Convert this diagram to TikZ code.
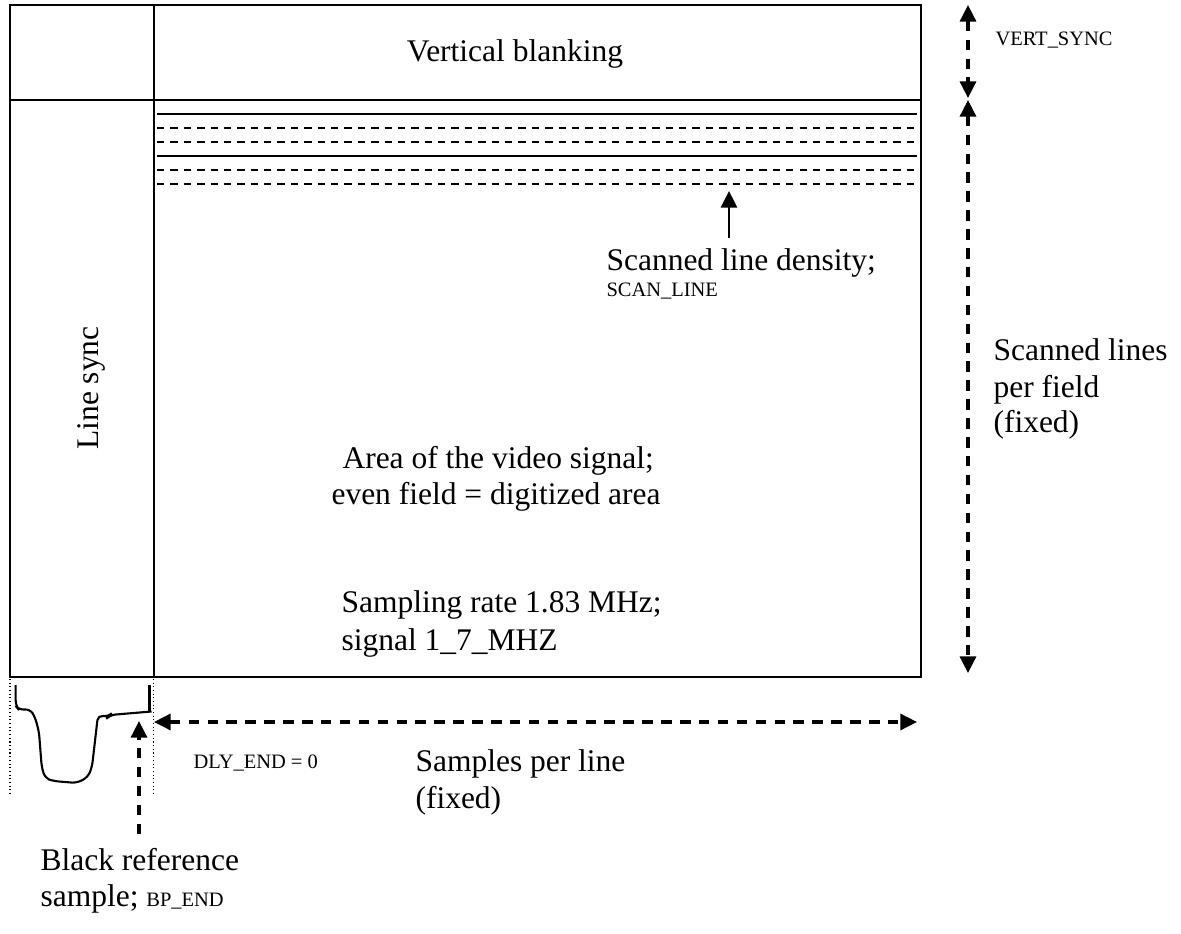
\documentclass[tikz,border=0pt]{standalone}
\usepackage{fontspec}
\setmainfont{Liberation Serif}
\usetikzlibrary{arrows.meta}
\begin{document}
\begin{tikzpicture}[x=0.381pt,y=-0.381pt,
  frame/.style={line width=0.8pt},
  scansolid/.style={line width=0.85pt},
  scandash/.style={line width=0.6pt, dash pattern=on 2.8pt off 2.3pt},
  tip/.tip={Triangle[length=6.3pt,width=6.1pt]},
  dim/.style={line width=1.15pt, dash pattern=on 4pt off 3.2pt, -tip},
  dimboth/.style={line width=1.15pt, dash pattern=on 4pt off 3.2pt, tip-tip},
  pointer/.style={line width=1pt, -tip},
  guide/.style={line width=0.4pt, dash pattern=on 0.4pt off 1pt},
  wave/.style={line width=0.8pt, rounded corners=2pt},
  lbl/.style={inner sep=0pt, anchor=base west, font=\fontsize{12}{13.9}\selectfont},
  small/.style={inner sep=0pt, anchor=base west, font=\fontsize{7.8}{9}\selectfont},
]
\useasboundingbox (0,0) rectangle (1181,934);

% corners of the field frame
\coordinate (tl) at (10,5);
\coordinate (br) at (921,677);
\coordinate (divtop) at (154,5);
\coordinate (divbot) at (154,677);
\coordinate (blankl) at (10,100);
\coordinate (blankr) at (921,100);

% frame, line-sync column and vertical blanking band
\draw[frame] (tl) rectangle (br);
\draw[frame] (divtop) -- (divbot);
\draw[frame] (blankl) -- (blankr);

% scanned lines (two fields interleaved)
\foreach \yy in {114,156} \draw[scansolid] (157,\yy) -- (917,\yy);
\foreach \yy in {128,142,170,184} \draw[scandash] (157,\yy) -- (917,\yy);

% texts
\node[lbl, anchor=base] (vblank) at (515,62) {Vertical blanking};
\node[small] (vsync) at (995,46) {VERT\_SYNC};
\node[lbl] (densA) at (606,271) {Scanned line density;};
\node[small] (densB) at (606,297) {SCAN\_LINE};
\node[lbl, anchor=center, rotate=90] (lsync) at (91,388) {Line sync};
\node[lbl] (perA) at (993,361) {Scanned lines};
\node[lbl] (perB) at (993,397) {per field};
\node[lbl] (perC) at (993,433) {(fixed)};
\node[lbl] (areaA) at (342,468) {Area of the video signal;};
\node[lbl] (areaB) at (331,505) {even field = digitized area};
\node[lbl] (rateA) at (341,613) {Sampling rate 1.83 MHz;};
\node[lbl] (rateB) at (341,650) {signal 1\_7\_MHZ};
\node[small] (dly) at (193,768) {DLY\_END = 0};
\node[lbl] (splA) at (415,772) {Samples per line};
\node[lbl] (splB) at (415,808) {(fixed)};
\node[lbl] (blkA) at (40,870) {Black reference};
\node[lbl] (blkB) at (40,907) {sample; {\fontsize{7.8}{9}\selectfont BP\_END}};

% arrow end points
\coordinate (densTail) at (729,238);
\coordinate (densTip) at (729,191);
\coordinate (vsTop) at (968,5);
\coordinate (vsBot) at (968,98);
\coordinate (lnTop) at (968,100);
\coordinate (lnBot) at (968,673);
\coordinate (splL) at (154,722);
\coordinate (splR) at (917,722);
\coordinate (blkTail) at (139,834);
\coordinate (blkTip) at (139,721);

% arrows
\draw[pointer] (densTail) -- (densTip);
\draw[dimboth] (vsTop) -- (vsBot);
\draw[dimboth] (lnTop) -- (lnBot);
\draw[dimboth] (splL) -- (splR);
\draw[dim] (blkTail) -- (blkTip);

% one line period of the video signal with sync pulse
\coordinate (g1a) at (10,679);
\coordinate (g1b) at (10,793);
\coordinate (g2a) at (153.5,679);
\coordinate (g2b) at (153.5,793);
\draw[guide] (g1a) -- (g1b);
\draw[guide] (g2a) -- (g2b);
\draw[wave] (15.7,685) -- (15.7,706) -- (19,710) -- (30,709) -- (35,717)
  -- (39,732) -- (41.7,767) -- (45,778) -- (53,781) -- (77,783) -- (88,777)
  -- (92,767) -- (98,715) -- (108,717) -- (110,715) -- (151.5,711.5);
\draw[line width=0.8pt] (149.5,685) -- (149.5,711.5);
\end{tikzpicture}
\end{document}
